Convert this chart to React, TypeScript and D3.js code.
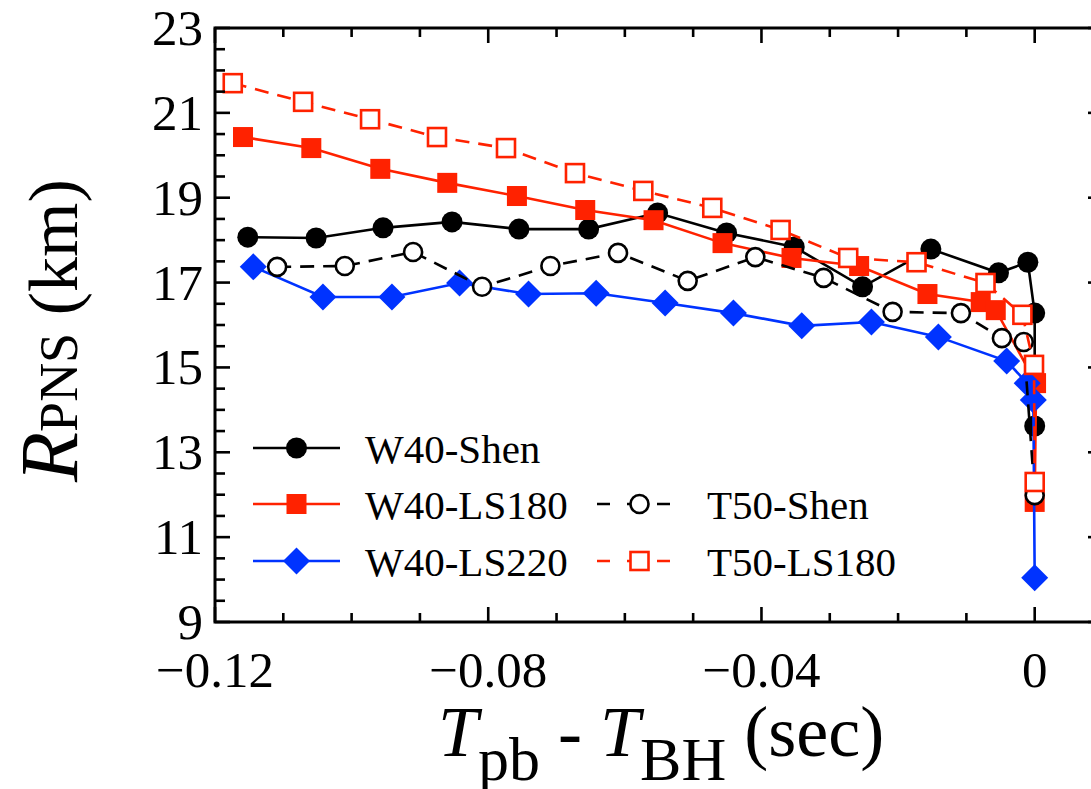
import * as d3 from "d3";

// time relative to BH formation (sec) and PNS radius (km)
const w40ShenT = [-0.1152, -0.1052, -0.0954, -0.0853, -0.0755, -0.0653, -0.0552, -0.0451, -0.0352, -0.0252, -0.0152, -0.0053, -0.001, 0.0, 0.0];
const w40ShenR = [18.07, 18.05, 18.29, 18.43, 18.26, 18.26, 18.64, 18.17, 17.84, 16.9, 17.79, 17.23, 17.48, 16.28, 13.62];

const w40Ls180T = [-0.1159, -0.1059, -0.0958, -0.086, -0.0758, -0.0658, -0.0558, -0.0457, -0.0356, -0.0257, -0.0157, -0.0079, -0.0057, 0.0002, 0.0];
const w40Ls180R = [20.43, 20.17, 19.68, 19.35, 19.04, 18.71, 18.47, 17.93, 17.58, 17.39, 16.73, 16.54, 16.35, 14.63, 11.83];

const w40Ls220T = [-0.1144, -0.1042, -0.0941, -0.0842, -0.0741, -0.0642, -0.0541, -0.0441, -0.0341, -0.0239, -0.0141, -0.0041, -0.0011, -0.0002, 0.0];
const w40Ls220R = [17.37, 16.66, 16.66, 16.99, 16.73, 16.75, 16.52, 16.28, 15.98, 16.07, 15.72, 15.15, 14.63, 14.23, 10.04];

const t50ShenT = [-0.1109, -0.101, -0.091, -0.0809, -0.0709, -0.061, -0.0508, -0.0409, -0.0309, -0.0208, -0.0108, -0.0048, -0.0016, 0.0];
const t50ShenR = [17.37, 17.39, 17.72, 16.9, 17.39, 17.7, 17.04, 17.6, 17.11, 16.31, 16.28, 15.69, 15.6, 11.99];

const t50Ls180T = [-0.1174, -0.1071, -0.0973, -0.0875, -0.0774, -0.0673, -0.0573, -0.0472, -0.0372, -0.0273, -0.0173, -0.0072, -0.0018, -0.0001, 0.0];
const t50Ls180R = [21.7, 21.26, 20.85, 20.43, 20.17, 19.58, 19.16, 18.76, 18.24, 17.58, 17.48, 16.99, 16.24, 15.06, 12.3];

const xMajor = [-0.12, -0.08, -0.04, 0];
const xMajorLabels = ["\u22120.12", "\u22120.08", "\u22120.04", "0"];
const yMajor = [9, 11, 13, 15, 17, 19, 21, 23];

const RED = "#ff2200";
const BLUE = "#0033ff";
const FONT = "'Liberation Serif', 'Times New Roman', serif";

type Series = {
  name: string;
  t: number[];
  r: number[];
  color: string;
  dash?: string;
  marker: "circle" | "square" | "diamond" | "ocircle" | "osquare";
};

const series: Series[] = [
  { name: "W40-Shen", t: w40ShenT, r: w40ShenR, color: "#000", marker: "circle" },
  { name: "W40-LS180", t: w40Ls180T, r: w40Ls180R, color: RED, marker: "square" },
  { name: "W40-LS220", t: w40Ls220T, r: w40Ls220R, color: BLUE, marker: "diamond" },
  { name: "T50-Shen", t: t50ShenT, r: t50ShenR, color: "#000", dash: "14,9", marker: "ocircle" },
  { name: "T50-LS180", t: t50Ls180T, r: t50Ls180R, color: RED, dash: "14,9", marker: "osquare" },
];

function Marker({ kind, x, y, color }: { kind: Series["marker"]; x: number; y: number; color: string }) {
  switch (kind) {
    case "circle":
      return <circle cx={x} cy={y} r={10.5} fill={color} />;
    case "square":
      return <rect x={x - 10} y={y - 10} width={20} height={20} fill={color} />;
    case "diamond":
      return <path d={`M${x},${y - 13.5}L${x + 13.5},${y}L${x},${y + 13.5}L${x - 13.5},${y}Z`} fill={color} />;
    case "ocircle":
      return <circle cx={x} cy={y} r={9} fill="#fff" stroke={color} strokeWidth={2.6} />;
    case "osquare":
      return <rect x={x - 9} y={y - 9} width={18} height={18} fill="#fff" stroke={color} strokeWidth={2.6} />;
  }
}

export default function App() {
  const width = 1091;
  const height = 789;
  const left = 215;
  const right = 1103;
  const top = 28;
  const bottom = 622;

  const x = d3.scaleLinear().domain([-0.12, 0.01]).range([left, right]);
  const y = d3.scaleLinear().domain([9, 23]).range([bottom, top]);

  const xMinor = d3.range(-12, 2).map((i) => i / 100);
  const yMinor = d3.range(18, 47).map((i) => i / 2);

  const line = d3
    .line<[number, number]>()
    .x((d) => x(d[0]))
    .y((d) => y(d[1]));

  // legend layout
  const legend = [
    { s: series[0], x0: 253, x1: 340, ty: 448 },
    { s: series[1], x0: 253, x1: 340, ty: 504 },
    { s: series[2], x0: 253, x1: 340, ty: 561 },
    { s: series[3], x0: 597, x1: 682, ty: 504 },
    { s: series[4], x0: 597, x1: 682, ty: 561 },
  ];

  return (
    <svg width={width} height={height} style={{ position: "absolute", left: 0, top: 0, background: "#fff" }} fontFamily={FONT}>
      {/* data */}
      {series.map((s) => (
        <g key={s.name}>
          <path
            d={line(s.t.map((t, i) => [t, s.r[i]] as [number, number])) ?? ""}
            fill="none"
            stroke={s.color}
            strokeWidth={2.6}
            strokeDasharray={s.dash}
          />
          {s.t.map((t, i) => (
            <Marker key={i} kind={s.marker} x={x(t)} y={y(s.r[i])} color={s.color} />
          ))}
        </g>
      ))}

      {/* legend */}
      {legend.map(({ s, x0, x1, ty }) => (
        <g key={s.name}>
          <line x1={x0} x2={x1} y1={ty} y2={ty} stroke={s.color} strokeWidth={2.6} strokeDasharray={s.dash ? "13,17" : undefined} />
          <Marker kind={s.marker} x={(x0 + x1) / 2} y={ty} color={s.color} />
          <text x={x1 + 25} y={ty + 15} fontSize={41} fill="#000">
            {s.name}
          </text>
        </g>
      ))}

      {/* ticks */}
      {xMinor.map((t, i) => {
        const major = xMajor.some((m) => Math.abs(m - t) < 1e-9);
        const len = major ? 15 : 9;
        return (
          <g key={"xt" + i} stroke="#000" strokeWidth={2.6}>
            <line x1={x(t)} x2={x(t)} y1={bottom} y2={bottom - len} />
            <line x1={x(t)} x2={x(t)} y1={top} y2={top + len} />
          </g>
        );
      })}
      {yMinor.map((v, i) => {
        const major = yMajor.includes(v);
        const len = major ? 15 : 10;
        return (
          <g key={"yt" + i} stroke="#000" strokeWidth={2.6}>
            <line x1={left} x2={left + len} y1={y(v)} y2={y(v)} />
            <line x1={right} x2={right - len} y1={y(v)} y2={y(v)} />
          </g>
        );
      })}

      {/* frame */}
      <rect x={left} y={top} width={right - left} height={bottom - top} fill="none" stroke="#000" strokeWidth={3} />

      {/* tick labels */}
      {xMajor.map((t, i) => (
        <text key={"xl" + i} x={x(t)} y={687} fontSize={51} textAnchor="middle">
          {xMajorLabels[i]}
        </text>
      ))}
      {yMajor.map((v) => (
        <text key={"yl" + v} x={203} y={y(v) + 17} fontSize={51} textAnchor="end">
          {v}
        </text>
      ))}

      {/* axis titles */}
      <text x={438} y={756} fontSize={72}>
        <tspan fontStyle="italic">T</tspan>
        <tspan fontSize={62} dy={24}>pb</tspan>
        <tspan dy={-24}> - </tspan>
        <tspan fontStyle="italic">T</tspan>
        <tspan fontSize={62} dy={24}>BH</tspan>
        <tspan dy={-24}> (sec)</tspan>
      </text>
      <text transform="translate(77,482) rotate(-90)" fontSize={70}>
        <tspan fontStyle="italic" fontSize={82}>R</tspan>
        <tspan fontSize={54}>PNS</tspan>
        <tspan> (km)</tspan>
      </text>
    </svg>
  );
}
